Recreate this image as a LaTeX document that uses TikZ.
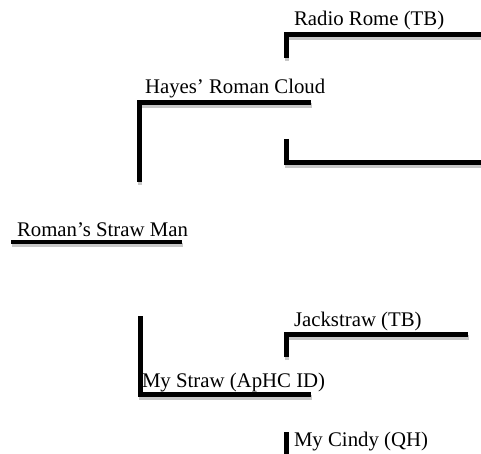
\documentclass[tikz,border=0pt]{standalone}
\usepackage{fontspec}
\setmainfont{Liberation Serif}
\usepackage{tikz}
\usetikzlibrary{positioning,calc}

\begin{document}
\begin{tikzpicture}[x={(1pt,0pt)},y={(0pt,-1pt)},
  every node/.style={inner sep=0pt, outer sep=0pt, anchor=base west, font=\fontsize{20.8}{24}\selectfont},
  pedline/.style={line width=4.6pt, line join=miter, preaction={draw=black!22, line width=4.6pt, transform canvas={xshift=0.6pt,yshift=-3pt}}}]
\useasboundingbox (0,0) rectangle (481,454);
% names
\node (radio) at (294,26) {Radio Rome (TB)};
\node (hayes) at (145,94) {Hayes' Roman Cloud};
\node (roman) at (17,236) {Roman's Straw Man};
\node (jack) at (294,326) {Jackstraw (TB)};
\node (mystraw) at (142,387) {My Straw (ApHC ID)};
\node (cindy) at (294,446) {My Cindy (QH)};
% line ends
\coordinate (radio-a) at (286.5,58);
\coordinate (radio-b) at (286.5,34.5);
\coordinate (radio-c) at (481,34.5);
\coordinate (hayes-a) at (139.5,182);
\coordinate (hayes-b) at (139.5,102.5);
\coordinate (hayes-c) at (311,102.5);
\coordinate (dam-a) at (286.5,139);
\coordinate (dam-b) at (286.5,162.5);
\coordinate (dam-c) at (481,162.5);
\coordinate (roman-a) at (11,242);
\coordinate (roman-b) at (182,242);
\coordinate (jack-a) at (286.5,357);
\coordinate (jack-b) at (286.5,334.5);
\coordinate (jack-c) at (468,334.5);
\coordinate (mystraw-a) at (140.5,316);
\coordinate (mystraw-b) at (140.5,394.5);
\coordinate (mystraw-c) at (311,394.5);
\coordinate (cindy-a) at (286.5,432);
\coordinate (cindy-b) at (286.5,454);
% pedigree lines
\draw[pedline] (radio-a) -- (radio-b) -- (radio-c);
\draw[pedline] (hayes-a) -- (hayes-b) -- (hayes-c);
\draw[pedline] (dam-a) -- (dam-b) -- (dam-c);
\draw[pedline] (roman-a) -- (roman-b);
\draw[pedline] (jack-a) -- (jack-b) -- (jack-c);
\draw[pedline] (mystraw-a) -- (mystraw-b) -- (mystraw-c);
\draw[line width=4.6pt] (cindy-a) -- (cindy-b);
\end{tikzpicture}
\end{document}
